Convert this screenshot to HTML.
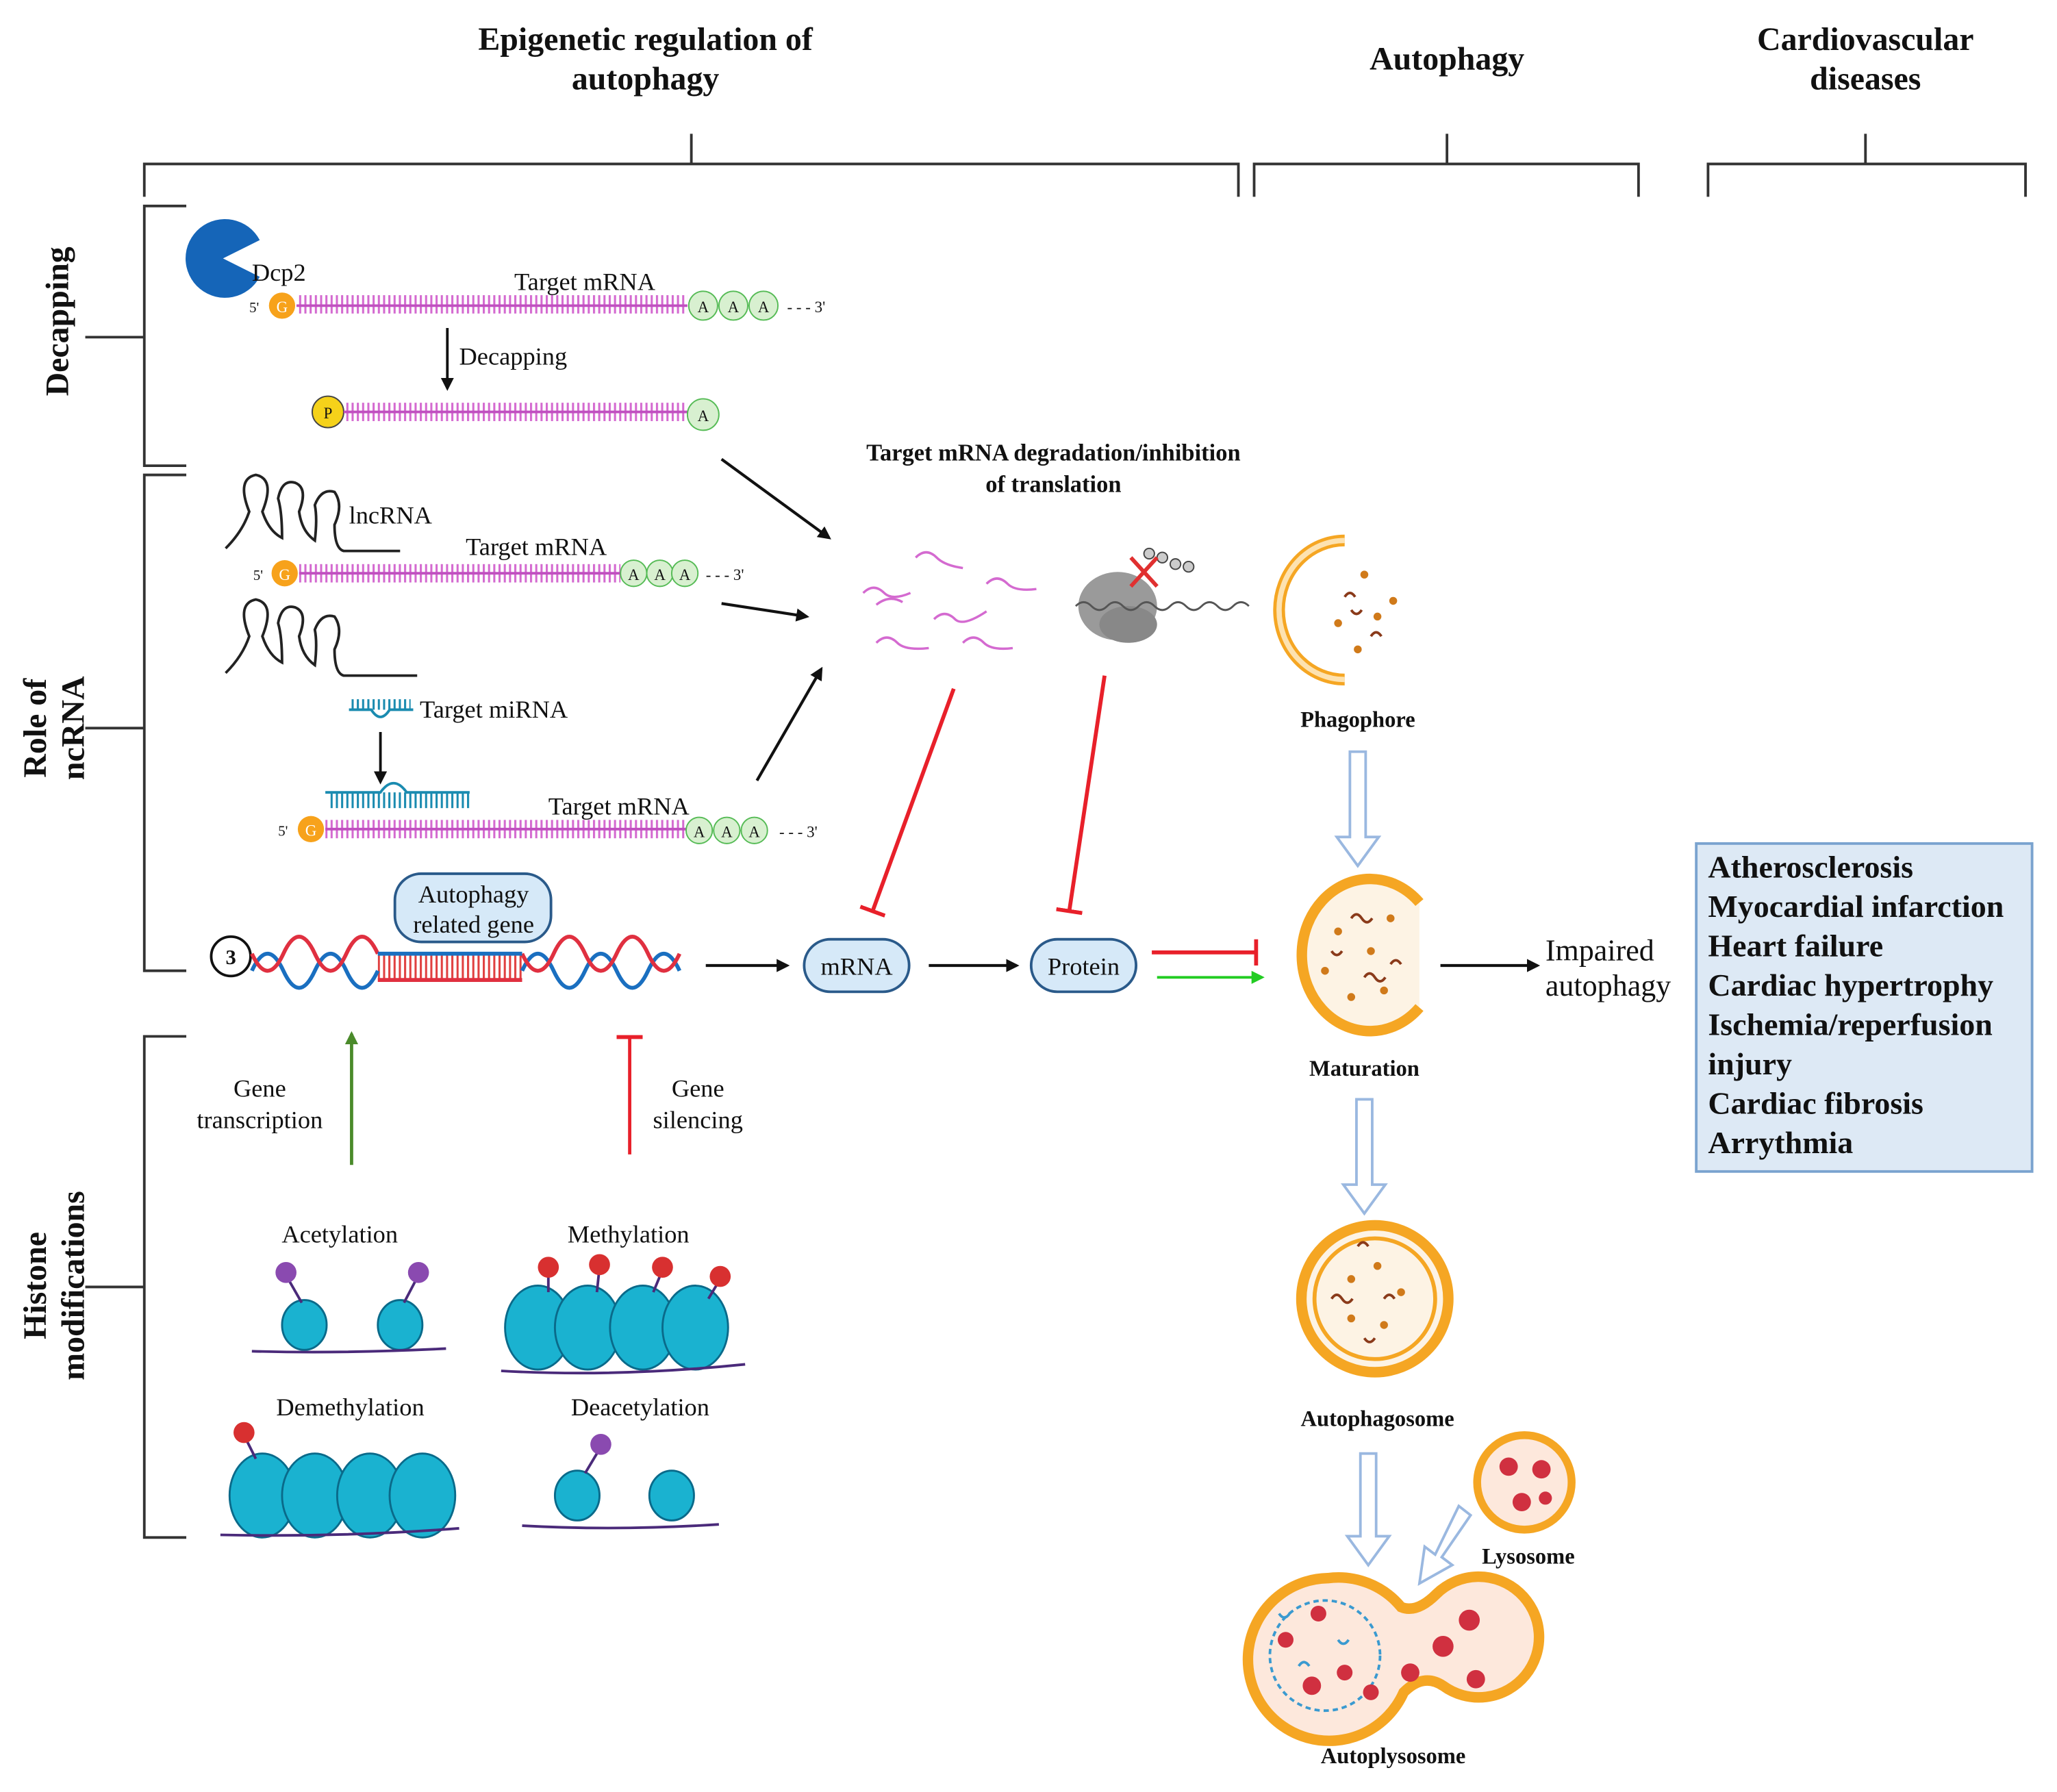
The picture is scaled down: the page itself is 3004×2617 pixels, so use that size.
<!DOCTYPE html>
<html><head><meta charset="utf-8"><style>
html,body{margin:0;padding:0;background:#fff}
svg{display:block}
text{font-family:"Liberation Serif",serif;fill:#111}
.h{font-size:25px;font-weight:bold}
.b{font-size:17px;font-weight:bold}
.n{font-size:19px}
.d{font-size:24px;font-weight:bold}
</style></head><body>
<svg width="3004" height="2617" viewBox="0 0 1568 1366" preserveAspectRatio="none" xmlns="http://www.w3.org/2000/svg">
<defs>
<pattern id="comb" width="4" height="14" patternUnits="userSpaceOnUse"><rect x="0" y="0" width="1.6" height="14" fill="#d46ad0"/></pattern>
<pattern id="combb" width="4" height="10" patternUnits="userSpaceOnUse"><rect x="0" y="0" width="1.6" height="10" fill="#1a8bb0"/></pattern>
<pattern id="combr" width="4" height="20" patternUnits="userSpaceOnUse"><rect x="0" y="0" width="1.6" height="20" fill="#e04040"/></pattern>
<marker id="ah" markerWidth="10" markerHeight="10" refX="8" refY="5" orient="auto" markerUnits="userSpaceOnUse"><path d="M0,0 L10,5 L0,10 z" fill="#111"/></marker>
<marker id="ahg" markerWidth="10" markerHeight="10" refX="8" refY="5" orient="auto" markerUnits="userSpaceOnUse"><path d="M0,0 L10,5 L0,10 z" fill="#22cc22"/></marker>
<marker id="ahgd" markerWidth="10" markerHeight="10" refX="8" refY="5" orient="auto" markerUnits="userSpaceOnUse"><path d="M0,0 L10,5 L0,10 z" fill="#4a8a2a"/></marker>
<marker id="tb" markerWidth="4" markerHeight="20" refX="2" refY="10" orient="auto" markerUnits="userSpaceOnUse"><rect x="0" y="0" width="3" height="20" fill="#e8202a"/></marker>
</defs>

<text class="h" x="492" y="38" text-anchor="middle">Epigenetic regulation of</text>
<text class="h" x="492" y="68" text-anchor="middle">autophagy</text>
<text class="h" x="1103" y="53" text-anchor="middle">Autophagy</text>
<text class="h" x="1422" y="38" text-anchor="middle">Cardiovascular</text>
<text class="h" x="1422" y="68" text-anchor="middle">diseases</text>

<g stroke="#333" stroke-width="2" fill="none">
<path d="M110,150 V125 H944 V150 M527,125 V102"/>
<path d="M956,150 V125 H1249 V150 M1103,125 V102"/>
<path d="M1302,150 V125 H1544 V150 M1422,125 V102"/>
<path d="M142,157 H110 V355 H142 M110,257 H65"/>
<path d="M142,362 H110 V740 H142 M110,555 H65"/>
<path d="M142,790 H110 V1172 H142 M110,981 H65"/>
</g>
<text class="h" transform="translate(52,245) rotate(-90)" text-anchor="middle">Decapping</text>
<text class="h" transform="translate(35,555) rotate(-90)" text-anchor="middle">Role of</text>
<text class="h" transform="translate(64,555) rotate(-90)" text-anchor="middle">ncRNA</text>
<text class="h" transform="translate(35,980) rotate(-90)" text-anchor="middle">Histone</text>
<text class="h" transform="translate(64,980) rotate(-90)" text-anchor="middle">modifications</text>

<path d="M170,197 L198,183 A30,30 0 1 0 198,211 Z" fill="#1565b8"/>
<text class="n" x="192" y="214">Dcp2</text>
<text x="190" y="238" style="font-size:11px">5'</text>
<circle cx="215" cy="233" r="10" fill="#f7a21b"/><text x="215" y="238" text-anchor="middle" style="font-size:12px;fill:#fff">G</text>
<rect x="226" y="225" width="298" height="14" fill="url(#comb)"/><line x1="226" y1="233" x2="524" y2="233" stroke="#c050c0" stroke-width="2"/>
<text class="n" x="392" y="221">Target mRNA</text>
<g fill="#d8f0d0" stroke="#55bb55"><circle cx="536" cy="233" r="11"/><circle cx="559" cy="233" r="11"/><circle cx="582" cy="233" r="11"/></g>
<g style="font-size:12px" text-anchor="middle"><text x="536" y="238">A</text><text x="559" y="238">A</text><text x="582" y="238">A</text></g>
<text x="600" y="238" style="font-size:12px">- - - 3'</text>
<line x1="341" y1="250" x2="341" y2="296" stroke="#111" stroke-width="2" marker-end="url(#ah)"/>
<text class="n" x="350" y="278">Decapping</text>
<circle cx="250" cy="314" r="12" fill="#f5d21a" stroke="#444"/><text x="250" y="319" text-anchor="middle" style="font-size:12px">P</text>
<rect x="262" y="307" width="262" height="14" fill="url(#comb)"/><line x1="262" y1="314" x2="524" y2="314" stroke="#c050c0" stroke-width="2"/>
<circle cx="536" cy="316" r="12" fill="#d8f0d0" stroke="#55bb55"/><text x="536" y="321" text-anchor="middle" style="font-size:12px">A</text>

<g fill="none" stroke="#222" stroke-width="2">
<path d="M172,418 Q185,405 190,390 Q180,365 195,362 Q210,365 200,390 Q205,405 215,410 Q215,390 212,380 Q215,365 225,368 Q235,372 228,390 Q230,405 240,412 Q242,395 240,385 Q245,372 255,375 Q262,385 255,400 Q255,418 262,420 H305"/>
<path d="M172,513 Q185,500 190,485 Q180,460 195,457 Q210,460 200,485 Q205,500 215,505 Q215,485 212,475 Q215,460 225,463 Q235,467 228,485 Q230,500 240,507 Q242,490 240,480 Q245,467 255,470 Q262,480 255,495 Q255,513 262,515 H318"/>
</g>
<text class="n" x="266" y="399">lncRNA</text>
<text x="193" y="442" style="font-size:11px">5'</text>
<circle cx="217" cy="437" r="10" fill="#f7a21b"/><text x="217" y="442" text-anchor="middle" style="font-size:12px;fill:#fff">G</text>
<rect x="228" y="430" width="245" height="14" fill="url(#comb)"/><line x1="228" y1="437" x2="473" y2="437" stroke="#c050c0" stroke-width="2"/>
<text class="n" x="355" y="423">Target mRNA</text>
<g fill="#d8f0d0" stroke="#55bb55"><circle cx="483" cy="437" r="10"/><circle cx="503" cy="437" r="10"/><circle cx="522" cy="437" r="10"/></g>
<g style="font-size:12px" text-anchor="middle"><text x="483" y="442">A</text><text x="503" y="442">A</text><text x="522" y="442">A</text></g>
<text x="538" y="442" style="font-size:12px">- - - 3'</text>
<rect x="268" y="533" width="45" height="8" fill="url(#combb)"/><path d="M266,541 H283 Q290,552 297,541 H315" stroke="#1a8bb0" stroke-width="2" fill="none"/>
<text class="n" x="320" y="547">Target miRNA</text>
<line x1="290" y1="558" x2="290" y2="596" stroke="#111" stroke-width="2" marker-end="url(#ah)"/>
<rect x="250" y="604" width="108" height="12" fill="url(#combb)"/><path d="M248,604 H290 Q300,590 310,604 H358" stroke="#1a8bb0" stroke-width="2" fill="none"/>
<text x="212" y="637" style="font-size:11px">5'</text>
<circle cx="237" cy="632" r="10" fill="#f7a21b"/><text x="237" y="637" text-anchor="middle" style="font-size:12px;fill:#fff">G</text>
<rect x="248" y="625" width="275" height="14" fill="url(#comb)"/><line x1="248" y1="632" x2="523" y2="632" stroke="#c050c0" stroke-width="2"/>
<text class="n" x="418" y="621">Target mRNA</text>
<g fill="#d8f0d0" stroke="#55bb55"><circle cx="533" cy="633" r="10"/><circle cx="554" cy="633" r="10"/><circle cx="575" cy="633" r="10"/></g>
<g style="font-size:12px" text-anchor="middle"><text x="533" y="638">A</text><text x="554" y="638">A</text><text x="575" y="638">A</text></g>
<text x="594" y="638" style="font-size:12px">- - - 3'</text>

<g stroke="#111" stroke-width="2.2" marker-end="url(#ah)">
<line x1="550" y1="350" x2="632" y2="410"/>
<line x1="550" y1="460" x2="615" y2="470"/>
<line x1="577" y1="595" x2="626" y2="510"/>
</g>
<text class="b" x="803" y="351" text-anchor="middle" style="font-size:18px">Target mRNA degradation/inhibition</text>
<text class="b" x="803" y="375" text-anchor="middle" style="font-size:18px">of translation</text>
<g stroke="#d46ad0" stroke-width="1.8" fill="none">
<path d="M698,425 q8,-8 16,0 q6,6 20,8"/><path d="M658,452 q8,-8 16,0 q6,6 20,0"/>
<path d="M752,445 q8,-8 16,0 q6,6 22,4"/><path d="M712,472 q8,-8 16,0 q6,6 24,-6"/>
<path d="M668,490 q8,-8 16,0 q6,6 24,4"/><path d="M734,490 q8,-8 16,0 q6,6 22,4"/>
<path d="M668,461 q10,-8 20,-2"/>
</g>
<ellipse cx="852" cy="462" rx="30" ry="26" fill="#9a9a9a"/><ellipse cx="860" cy="476" rx="22" ry="14" fill="#888"/>
<path d="M820,462 q6,-6 12,0 q6,6 12,0 q6,-6 12,0 q6,6 12,0 q6,-6 12,0 q6,6 12,0 q6,-6 12,0 q6,6 12,0 q6,-6 12,0 q6,6 12,0 q6,-6 12,0" stroke="#555" fill="none" stroke-width="1.5"/>
<g fill="#ccc" stroke="#444"><circle cx="876" cy="422" r="4"/><circle cx="886" cy="425" r="4"/><circle cx="896" cy="430" r="4"/><circle cx="906" cy="432" r="4"/></g>
<path d="M862,425 L882,447 M882,425 L862,447" stroke="#e03030" stroke-width="3"/>
<line x1="727" y1="525" x2="665" y2="695" stroke="#e8202a" stroke-width="3" marker-end="url(#tb)"/>
<line x1="842" y1="515" x2="815" y2="695" stroke="#e8202a" stroke-width="3" marker-end="url(#tb)"/>

<circle cx="176" cy="729" r="15" fill="#fff" stroke="#111" stroke-width="2"/><text x="176" y="735" text-anchor="middle" style="font-size:16px;font-weight:bold">3</text>
<rect x="288" y="727" width="110" height="20" fill="url(#combr)"/>
<g fill="none" stroke-width="3">
<path d="M192,740 q12,-26 24,0 q12,26 24,0 q12,-26 24,0 q12,26 24,0 M398,740 q12,-26 24,0 q12,26 24,0 q12,-26 24,0 q12,26 24,0 q12,-26 24,0" stroke="#1a6fc0"/>
<path d="M192,727 q12,26 24,0 q12,-26 24,0 q12,26 24,0 q12,-26 24,0 M398,727 q12,26 24,0 q12,-26 24,0 q12,26 24,0 q12,-26 24,0 q12,26 24,0" stroke="#e03040"/>
<line x1="288" y1="727" x2="398" y2="727" stroke="#1a6fc0"/><line x1="288" y1="747" x2="398" y2="747" stroke="#e03040"/>
</g>
<rect x="301" y="666" width="119" height="52" rx="20" fill="#d6e9f8" stroke="#2a5a8a" stroke-width="2"/>
<text class="n" x="361" y="688" text-anchor="middle">Autophagy</text>
<text class="n" x="361" y="711" text-anchor="middle">related gene</text>
<line x1="538" y1="736" x2="600" y2="736" stroke="#111" stroke-width="2.2" marker-end="url(#ah)"/>
<rect x="613" y="716" width="80" height="40" rx="20" fill="#d6e9f8" stroke="#2a5a8a" stroke-width="2"/>
<text class="n" x="653" y="743" text-anchor="middle">mRNA</text>
<line x1="708" y1="736" x2="775" y2="736" stroke="#111" stroke-width="2.2" marker-end="url(#ah)"/>
<rect x="786" y="716" width="80" height="40" rx="20" fill="#d6e9f8" stroke="#2a5a8a" stroke-width="2"/>
<text class="n" x="826" y="743" text-anchor="middle">Protein</text>
<line x1="878" y1="726" x2="958" y2="726" stroke="#e8202a" stroke-width="3" marker-end="url(#tb)"/>
<line x1="882" y1="745" x2="962" y2="745" stroke="#22cc22" stroke-width="2" marker-end="url(#ahg)"/>

<line x1="268" y1="888" x2="268" y2="788" stroke="#4a8a2a" stroke-width="2.5" marker-end="url(#ahgd)"/>
<text class="n" x="198" y="836" text-anchor="middle">Gene</text><text class="n" x="198" y="860" text-anchor="middle">transcription</text>
<line x1="480" y1="880" x2="480" y2="790" stroke="#e8202a" stroke-width="2.5" marker-end="url(#tb)"/>
<text class="n" x="532" y="836" text-anchor="middle">Gene</text><text class="n" x="532" y="860" text-anchor="middle">silencing</text>

<text class="n" x="259" y="947" text-anchor="middle">Acetylation</text>
<text class="n" x="479" y="947" text-anchor="middle">Methylation</text>
<text class="n" x="267" y="1079" text-anchor="middle">Demethylation</text>
<text class="n" x="488" y="1079" text-anchor="middle">Deacetylation</text>
<g fill="#1ab2d0" stroke="#0a6a8a" stroke-width="1.5">
<ellipse cx="232" cy="1010" rx="17" ry="19"/><ellipse cx="305" cy="1010" rx="17" ry="19"/>
<ellipse cx="410" cy="1012" rx="25" ry="32"/><ellipse cx="448" cy="1012" rx="25" ry="32"/><ellipse cx="490" cy="1012" rx="25" ry="32"/><ellipse cx="530" cy="1012" rx="25" ry="32"/>
<ellipse cx="200" cy="1140" rx="25" ry="32"/><ellipse cx="240" cy="1140" rx="25" ry="32"/><ellipse cx="282" cy="1140" rx="25" ry="32"/><ellipse cx="322" cy="1140" rx="25" ry="32"/>
<ellipse cx="440" cy="1140" rx="17" ry="19"/><ellipse cx="512" cy="1140" rx="17" ry="19"/>
</g>
<g stroke="#4a2a7a" stroke-width="2" fill="none">
<path d="M192,1030 Q260,1032 340,1028"/><path d="M382,1045 Q470,1050 568,1040"/>
<path d="M168,1170 Q260,1172 350,1165"/><path d="M398,1163 Q470,1167 548,1162"/>
<line x1="218" y1="972" x2="230" y2="993"/><line x1="319" y1="972" x2="308" y2="993"/>
<line x1="418" y1="968" x2="418" y2="985"/><line x1="457" y1="966" x2="455" y2="985"/><line x1="505" y1="968" x2="498" y2="985"/><line x1="549" y1="975" x2="540" y2="990"/>
<line x1="186" y1="1094" x2="195" y2="1112"/><line x1="458" y1="1103" x2="446" y2="1123"/>
</g>
<g fill="#8a4ab0"><circle cx="218" cy="970" r="8"/><circle cx="319" cy="970" r="8"/><circle cx="458" cy="1101" r="8"/></g>
<g fill="#d83030"><circle cx="418" cy="966" r="8"/><circle cx="457" cy="964" r="8"/><circle cx="505" cy="966" r="8"/><circle cx="549" cy="973" r="8"/><circle cx="186" cy="1092" r="8"/></g>

<path d="M1025,412 A50,53 0 0 0 1025,518" fill="none" stroke="#f5a623" stroke-width="9"/>
<path d="M1025,412 A50,53 0 0 0 1025,518" fill="none" stroke="#fde2b0" stroke-width="4"/>
<g fill="#d07a1a"><circle cx="1040" cy="438" r="3"/><circle cx="1050" cy="470" r="3"/><circle cx="1020" cy="475" r="3"/><circle cx="1062" cy="458" r="3"/><circle cx="1035" cy="495" r="3"/></g>
<g stroke="#8a3a1a" stroke-width="2" fill="none"><path d="M1025,455 q4,-6 8,0"/><path d="M1045,485 q4,-6 8,0"/><path d="M1030,465 q4,6 8,0"/></g>
<text class="b" x="1035" y="554" text-anchor="middle">Phagophore</text>

<g fill="#fff" stroke="#9ab8e0" stroke-width="2">
<path d="M1029,573 h12 v65 h10 l-16,22 l-16,-22 h10 z"/>
<path d="M1034,838 h12 v65 h10 l-16,22 l-16,-22 h10 z"/>
<path d="M1037,1108 h12 v63 h10 l-16,22 l-16,-22 h10 z"/>
<path d="M1112,1148 l9,7 l-22,32 l8,6 l-25,14 l4,-28 l8,6 z"/>
</g>

<path d="M1082,688 A52,58 0 1 0 1082,768" fill="#fdf3e4" stroke="#f5a623" stroke-width="8"/>
<g fill="#d07a1a"><circle cx="1020" cy="710" r="3"/><circle cx="1045" cy="725" r="3"/><circle cx="1060" cy="700" r="3"/><circle cx="1030" cy="760" r="3"/><circle cx="1055" cy="755" r="3"/><circle cx="1010" cy="740" r="3"/></g>
<g stroke="#8a3a1a" stroke-width="2" fill="none"><path d="M1030,700 q4,-6 8,0 q4,6 8,0"/><path d="M1060,735 q4,-6 8,0"/><path d="M1015,725 q4,6 8,0"/><path d="M1040,745 q4,-6 8,0 q4,6 8,0"/></g>
<text class="b" x="1040" y="820" text-anchor="middle">Maturation</text>

<circle cx="1048" cy="990" r="56" fill="#fdf3e4" stroke="#f5a623" stroke-width="8"/>
<circle cx="1048" cy="990" r="46" fill="none" stroke="#f5a623" stroke-width="3"/>
<g fill="#d07a1a"><circle cx="1030" cy="975" r="3"/><circle cx="1050" cy="965" r="3"/><circle cx="1068" cy="985" r="3"/><circle cx="1030" cy="1005" r="3"/><circle cx="1055" cy="1010" r="3"/></g>
<g stroke="#8a3a1a" stroke-width="2" fill="none"><path d="M1015,990 q4,-6 8,0 q4,6 8,0"/><path d="M1055,990 q4,-6 8,0"/><path d="M1040,1020 q4,6 8,0"/><path d="M1035,950 q4,-6 8,0"/></g>
<text class="b" x="1050" y="1087" text-anchor="middle">Autophagosome</text>

<circle cx="1162" cy="1130" r="36" fill="#fde8dc" stroke="#f5a623" stroke-width="6"/>
<g fill="#d03040"><circle cx="1150" cy="1118" r="7"/><circle cx="1175" cy="1120" r="7"/><circle cx="1160" cy="1145" r="7"/><circle cx="1178" cy="1142" r="5"/></g>
<text class="b" x="1165" y="1192" text-anchor="middle">Lysosome</text>

<path d="M1012,1203 A62,62 0 1 0 1070,1290 Q1085,1275 1100,1285 A46,46 0 1 0 1095,1215 Q1080,1230 1068,1225 A62,62 0 0 0 1012,1203 Z" fill="#fde8dc" stroke="#f5a623" stroke-width="8"/>
<circle cx="1010" cy="1262" r="42" fill="none" stroke="#3a9ad0" stroke-width="2" stroke-dasharray="4,3"/>
<g fill="#d03040"><circle cx="980" cy="1250" r="6"/><circle cx="1005" cy="1230" r="6"/><circle cx="1000" cy="1285" r="7"/><circle cx="1075" cy="1275" r="7"/><circle cx="1100" cy="1255" r="8"/><circle cx="1120" cy="1235" r="8"/><circle cx="1125" cy="1280" r="7"/><circle cx="1045" cy="1290" r="6"/><circle cx="1025" cy="1275" r="6"/></g>
<g stroke="#3a9ad0" stroke-width="2" fill="none"><path d="M990,1270 q4,-6 8,0"/><path d="M1020,1250 q4,6 8,0"/><path d="M975,1230 q4,6 8,0"/></g>
<text class="b" x="1062" y="1344" text-anchor="middle">Autoplysosome</text>

<line x1="1098" y1="736" x2="1172" y2="736" stroke="#111" stroke-width="2.2" marker-end="url(#ah)"/>
<text class="h" x="1178" y="732" style="font-weight:normal;font-size:23px">Impaired</text>
<text class="h" x="1178" y="759" style="font-weight:normal;font-size:23px">autophagy</text>

<rect x="1293" y="643" width="256" height="250" fill="#dde9f5" stroke="#7aa3cf" stroke-width="2"/>
<g class="d">
<text class="d" x="1302" y="669">Atherosclerosis</text>
<text class="d" x="1302" y="699">Myocardial infarction</text>
<text class="d" x="1302" y="729">Heart failure</text>
<text class="d" x="1302" y="759">Cardiac hypertrophy</text>
<text class="d" x="1302" y="789">Ischemia/reperfusion</text>
<text class="d" x="1302" y="819">injury</text>
<text class="d" x="1302" y="849">Cardiac fibrosis</text>
<text class="d" x="1302" y="879">Arrythmia</text>
</g>
</svg>
</body></html>
